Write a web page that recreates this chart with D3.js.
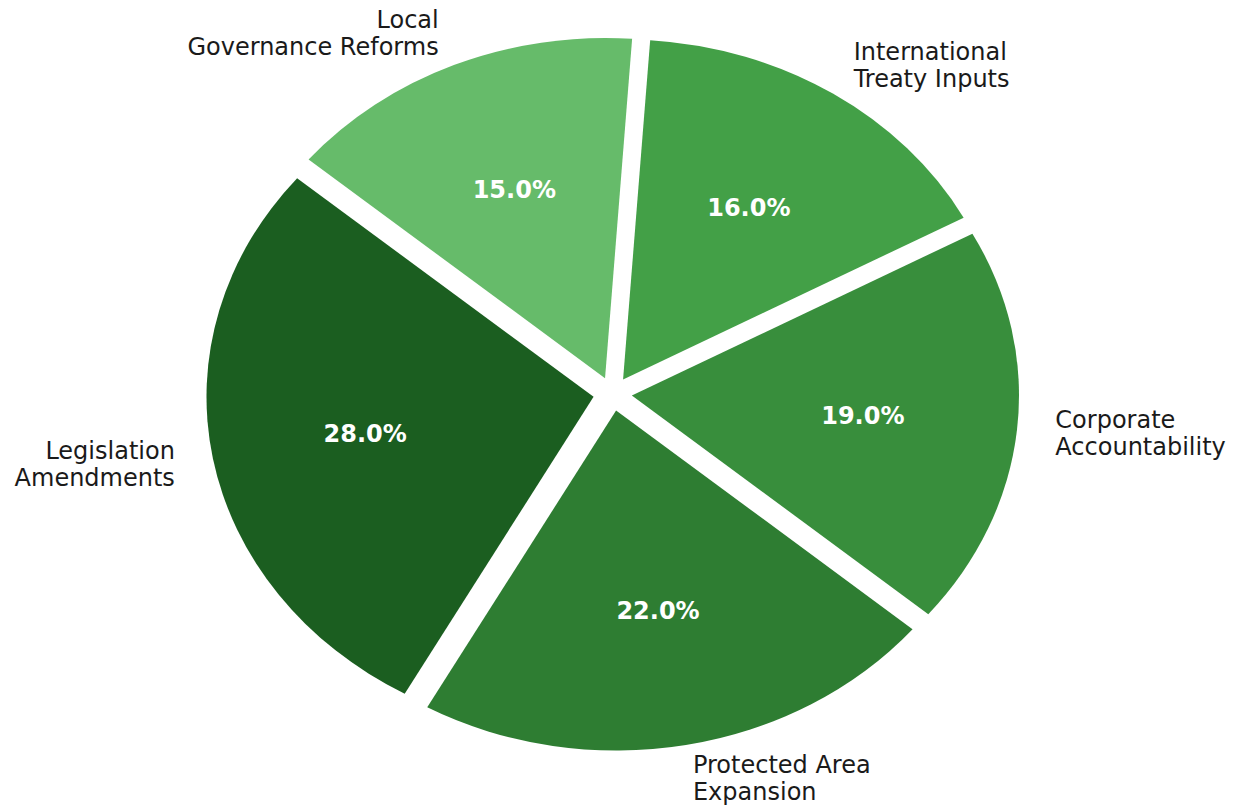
<!DOCTYPE html>
<html>
<head>
<meta charset="utf-8">
<script src="https://cdn.jsdelivr.net/npm/d3@7"></script>
<style>
  html, body { margin: 0; padding: 0; background: #ffffff; }
  svg { display: block; }
  text { font-family: "DejaVu Sans", sans-serif; }
</style>
</head>
<body>
<svg id="chart" width="1240" height="806"></svg>
<script>
// Share of policy outcomes by category
const categories = [
  "Legislation\nAmendments",
  "Protected Area\nExpansion",
  "Corporate\nAccountability",
  "International\nTreaty Inputs",
  "Local\nGovernance Reforms"
];
const values = [28, 22, 19, 16, 15];
const palette = ["#1b5e20", "#2e7d32", "#388e3c", "#43a047", "#66bb6a"];

const W = 1240, H = 806;
const cx = 612.6, cy = 393.8;   // pie centre
const rx = 387, ry = 340;       // horizontal / vertical radius
const explode = 0.05;           // wedge offset, in radius units
const startDeg = 140;           // first wedge starts here, counter-clockwise
const labelDist = 1.1, pctDist = 0.6;
const fontSize = 24, lineH = 27;

const svg = d3.select("#chart");

// Unit-circle space mapped to the page
const x = d3.scaleLinear().domain([-1, 1]).range([cx - rx, cx + rx]);
const y = d3.scaleLinear().domain([-1, 1]).range([cy - ry, cy + ry]);

const a0 = Math.PI / 2 - startDeg * Math.PI / 180;
const pie = d3.pie().sort(null).value(d => d.value)
  .startAngle(a0).endAngle(a0 - 2 * Math.PI);

const data = categories.map((c, i) => ({ label: c, value: values[i], color: palette[i] }));
const arcs = pie(data);
const total = d3.sum(values);

const arcGen = d3.arc().innerRadius(0).outerRadius(1);

const dir = a => [Math.sin(a), -Math.cos(a)];

const g = svg.append("g");

arcs.forEach(a => {
  const am = (a.startAngle + a.endAngle) / 2;
  const [ux, uy] = dir(am);
  const ox = ux * explode, oy = uy * explode;
  const sx = x(1) - x(0), sy = y(1) - y(0);

  // wedge
  g.append("path")
    .attr("d", arcGen(a))
    .attr("fill", a.data.color)
    .attr("transform", `translate(${x(ox)},${y(oy)}) scale(${sx},${sy})`);

  // percentage
  g.append("text")
    .attr("x", x(ox + ux * pctDist))
    .attr("y", y(oy + uy * pctDist))
    .attr("text-anchor", "middle")
    .attr("dominant-baseline", "central")
    .attr("fill", "#ffffff")
    .attr("font-weight", "bold")
    .attr("font-size", fontSize)
    .text((a.data.value / total * 100).toFixed(1) + "%");

  // category label
  const lines = a.data.label.split("\n");
  const lx = x(ox + ux * labelDist), ly = y(oy + uy * labelDist);
  const t = g.append("text")
    .attr("x", lx)
    .attr("y", ly)
    .attr("text-anchor", ux > 0 ? "start" : "end")
    .attr("dominant-baseline", "central")
    .attr("fill", "#1a1a1a")
    .attr("font-size", fontSize);
  lines.forEach((ln, i) => {
    t.append("tspan")
      .attr("x", lx)
      .attr("y", ly + (i - (lines.length - 1) / 2) * lineH)
      .text(ln);
  });
});
</script>
</body>
</html>
